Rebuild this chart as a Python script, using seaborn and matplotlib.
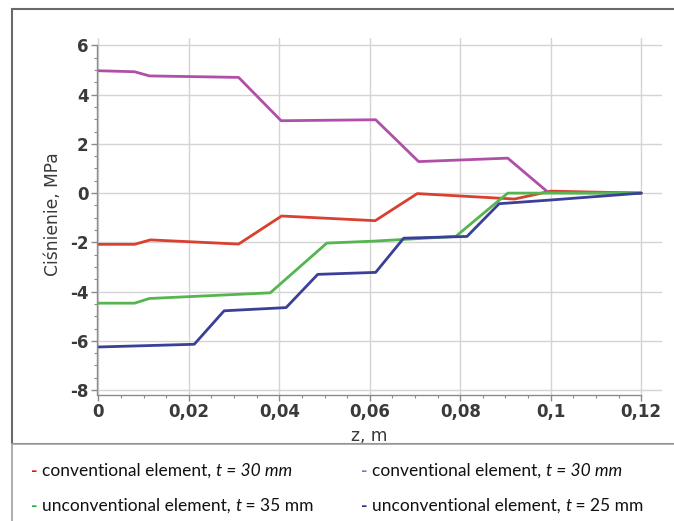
import matplotlib
matplotlib.use("Agg")
import matplotlib.pyplot as plt
import seaborn as sns
import pandas as pd
import numpy as np
from matplotlib.patches import Rectangle
from matplotlib.ticker import MultipleLocator, FuncFormatter

# ---- data ----
z_red = [0, 0.008, 0.0115, 0.031, 0.0405, 0.0612, 0.0705, 0.092, 0.1, 0.12]
p_red = [-2.08, -2.08, -1.9, -2.07, -0.93, -1.12, -0.02, -0.24, 0.08, 0.0]

z_mag = [0, 0.008, 0.0113, 0.031, 0.0404, 0.0613, 0.0708, 0.0905, 0.0995, 0.12]
p_mag = [4.97, 4.93, 4.76, 4.70, 2.94, 2.98, 1.28, 1.42, 0.02, 0.0]

z_grn = [0, 0.008, 0.0113, 0.038, 0.0505, 0.061, 0.079, 0.0882, 0.0905, 0.1, 0.12]
p_grn = [-4.47, -4.47, -4.28, -4.05, -2.03, -1.95, -1.76, -0.35, 0.0, 0.0, 0.0]

z_blu = [0, 0.0212, 0.0278, 0.0415, 0.0485, 0.0613, 0.0675, 0.0815, 0.0886, 0.1, 0.12]
p_blu = [-6.25, -6.14, -4.78, -4.65, -3.3, -3.22, -1.83, -1.76, -0.43, -0.28, 0.0]

series_keys = ["conv30_red", "conv30_mag", "unconv35", "unconv25"]
legend_labels = [
    [("conventional element, ", "normal"), ("t = 30 mm", "italic")],
    [("conventional element, ", "normal"), ("t = 30 mm", "italic")],
    [("unconventional element, ", "normal"), ("t", "italic"), (" = 35 mm", "normal")],
    [("unconventional element, ", "normal"), ("t", "italic"), (" = 25 mm", "normal")],
]
x_ticks = [0, 0.02, 0.04, 0.06, 0.08, 0.1, 0.12]
y_ticks = [-8, -6, -4, -2, 0, 2, 4, 6]

line_colors = {"conv30_red": "#d9402f", "conv30_mag": "#b04fa8",
               "unconv35": "#55b54f", "unconv25": "#3a3f98"}
legend_colors = ["#e01010", "#7a78a8", "#22aa44", "#1f2f7a"]

frames = []
for key, zs, ps in zip(series_keys, [z_red, z_mag, z_grn, z_blu],
                       [p_red, p_mag, p_grn, p_blu]):
    frames.append(pd.DataFrame({"z": zs, "p": ps, "series": key}))
df = pd.concat(frames, ignore_index=True)

# ---- figure ----
sns.set_theme(style="white")
plt.rcParams["font.family"] = ["DejaVu Sans"]
W, H = 674, 521
fig = plt.figure(figsize=(W / 100, H / 100), dpi=100)
fig.patch.set_facecolor("white")

ax = fig.add_axes([97 / W, 1 - 395 / H, (662 - 97) / W, (395 - 38) / H])
sns.lineplot(data=df, x="z", y="p", hue="series", palette=line_colors,
             estimator=None, sort=False, legend=False, linewidth=2.0, ax=ax)

ax.set_xlim(-0.0003, 0.1246)
ax.set_ylim(-8.2, 6.3)
ax.set_xticks(x_ticks)
ax.set_yticks(y_ticks)
ax.xaxis.set_minor_locator(MultipleLocator(0.005))
ax.yaxis.set_minor_locator(MultipleLocator(0.5))
ax.xaxis.set_major_formatter(FuncFormatter(lambda v, _: ("%g" % round(v, 3)).replace(".", ",")))
ax.yaxis.set_major_formatter(FuncFormatter(lambda v, _: "%d" % v))
ax.grid(True, which="major", color="#d4d4d4", linewidth=1.0)
ax.set_axisbelow(True)
for s in ["top", "right"]:
    ax.spines[s].set_visible(False)
for s in ["left", "bottom"]:
    ax.spines[s].set_color("#8a8a8a")
    ax.spines[s].set_linewidth(1.0)
ax.spines["bottom"].set_bounds(0, 0.12)
ax.spines["left"].set_bounds(-8.2, 6)
ax.tick_params(which="major", length=4, width=1, color="#8a8a8a", labelsize=12,
               labelcolor="#3a3a3a", direction="out", left=True, bottom=True, pad=2)
ax.tick_params(which="minor", length=2.5, width=0.8, color="#8a8a8a", direction="out",
               left=True, bottom=True)
for lab in ax.get_xticklabels() + ax.get_yticklabels():
    lab.set_fontweight("bold")
ax.set_xlabel("")
ax.set_ylabel("")

fig.text(53 / W, 1 - 214 / H, "Ciśnienie, MPa", rotation=90, ha="center", va="center",
         fontsize=12.3, color="#3a3a3a")
fig.text(369 / W, 1 - 436 / H, "z, m", ha="center", va="center", fontsize=12.3,
         color="#3a3a3a")

# frames
fig.patches.append(Rectangle((12 / W, 1 - 444 / H), (W - 12) / W + 0.01, (444 - 9) / H,
                             transform=fig.transFigure, fill=False,
                             edgecolor="#6a6a6a", linewidth=1.5, zorder=0))
fig.patches.append(Rectangle((12 / W, -0.01), (W - 12) / W + 0.01, (H - 444) / H + 0.01,
                             transform=fig.transFigure, facecolor="white",
                             edgecolor="#a0a0a0", linewidth=1.2, zorder=5))

# legend (manual, with mixed italic segments)
leg_font = "Lato"
fs = 12.5
renderer = fig.canvas.get_renderer()
positions = [(31, 476), (361, 476), (31, 511), (361, 511)]
for (px, py), col, segs in zip(positions, legend_colors, legend_labels):
    fig.text(px / W, 1 - py / H, "-", color=col, fontsize=fs, fontweight="bold",
             family=leg_font, va="baseline", zorder=6)
    x = px + 11
    for txt, style in segs:
        t = fig.text(x / W, 1 - py / H, txt, fontsize=fs, family=leg_font, style=style,
                     color="#111111", va="baseline", zorder=6)
        bb = t.get_window_extent(renderer)
        x += bb.width

fig.savefig("out.png", dpi=100, facecolor="white")
